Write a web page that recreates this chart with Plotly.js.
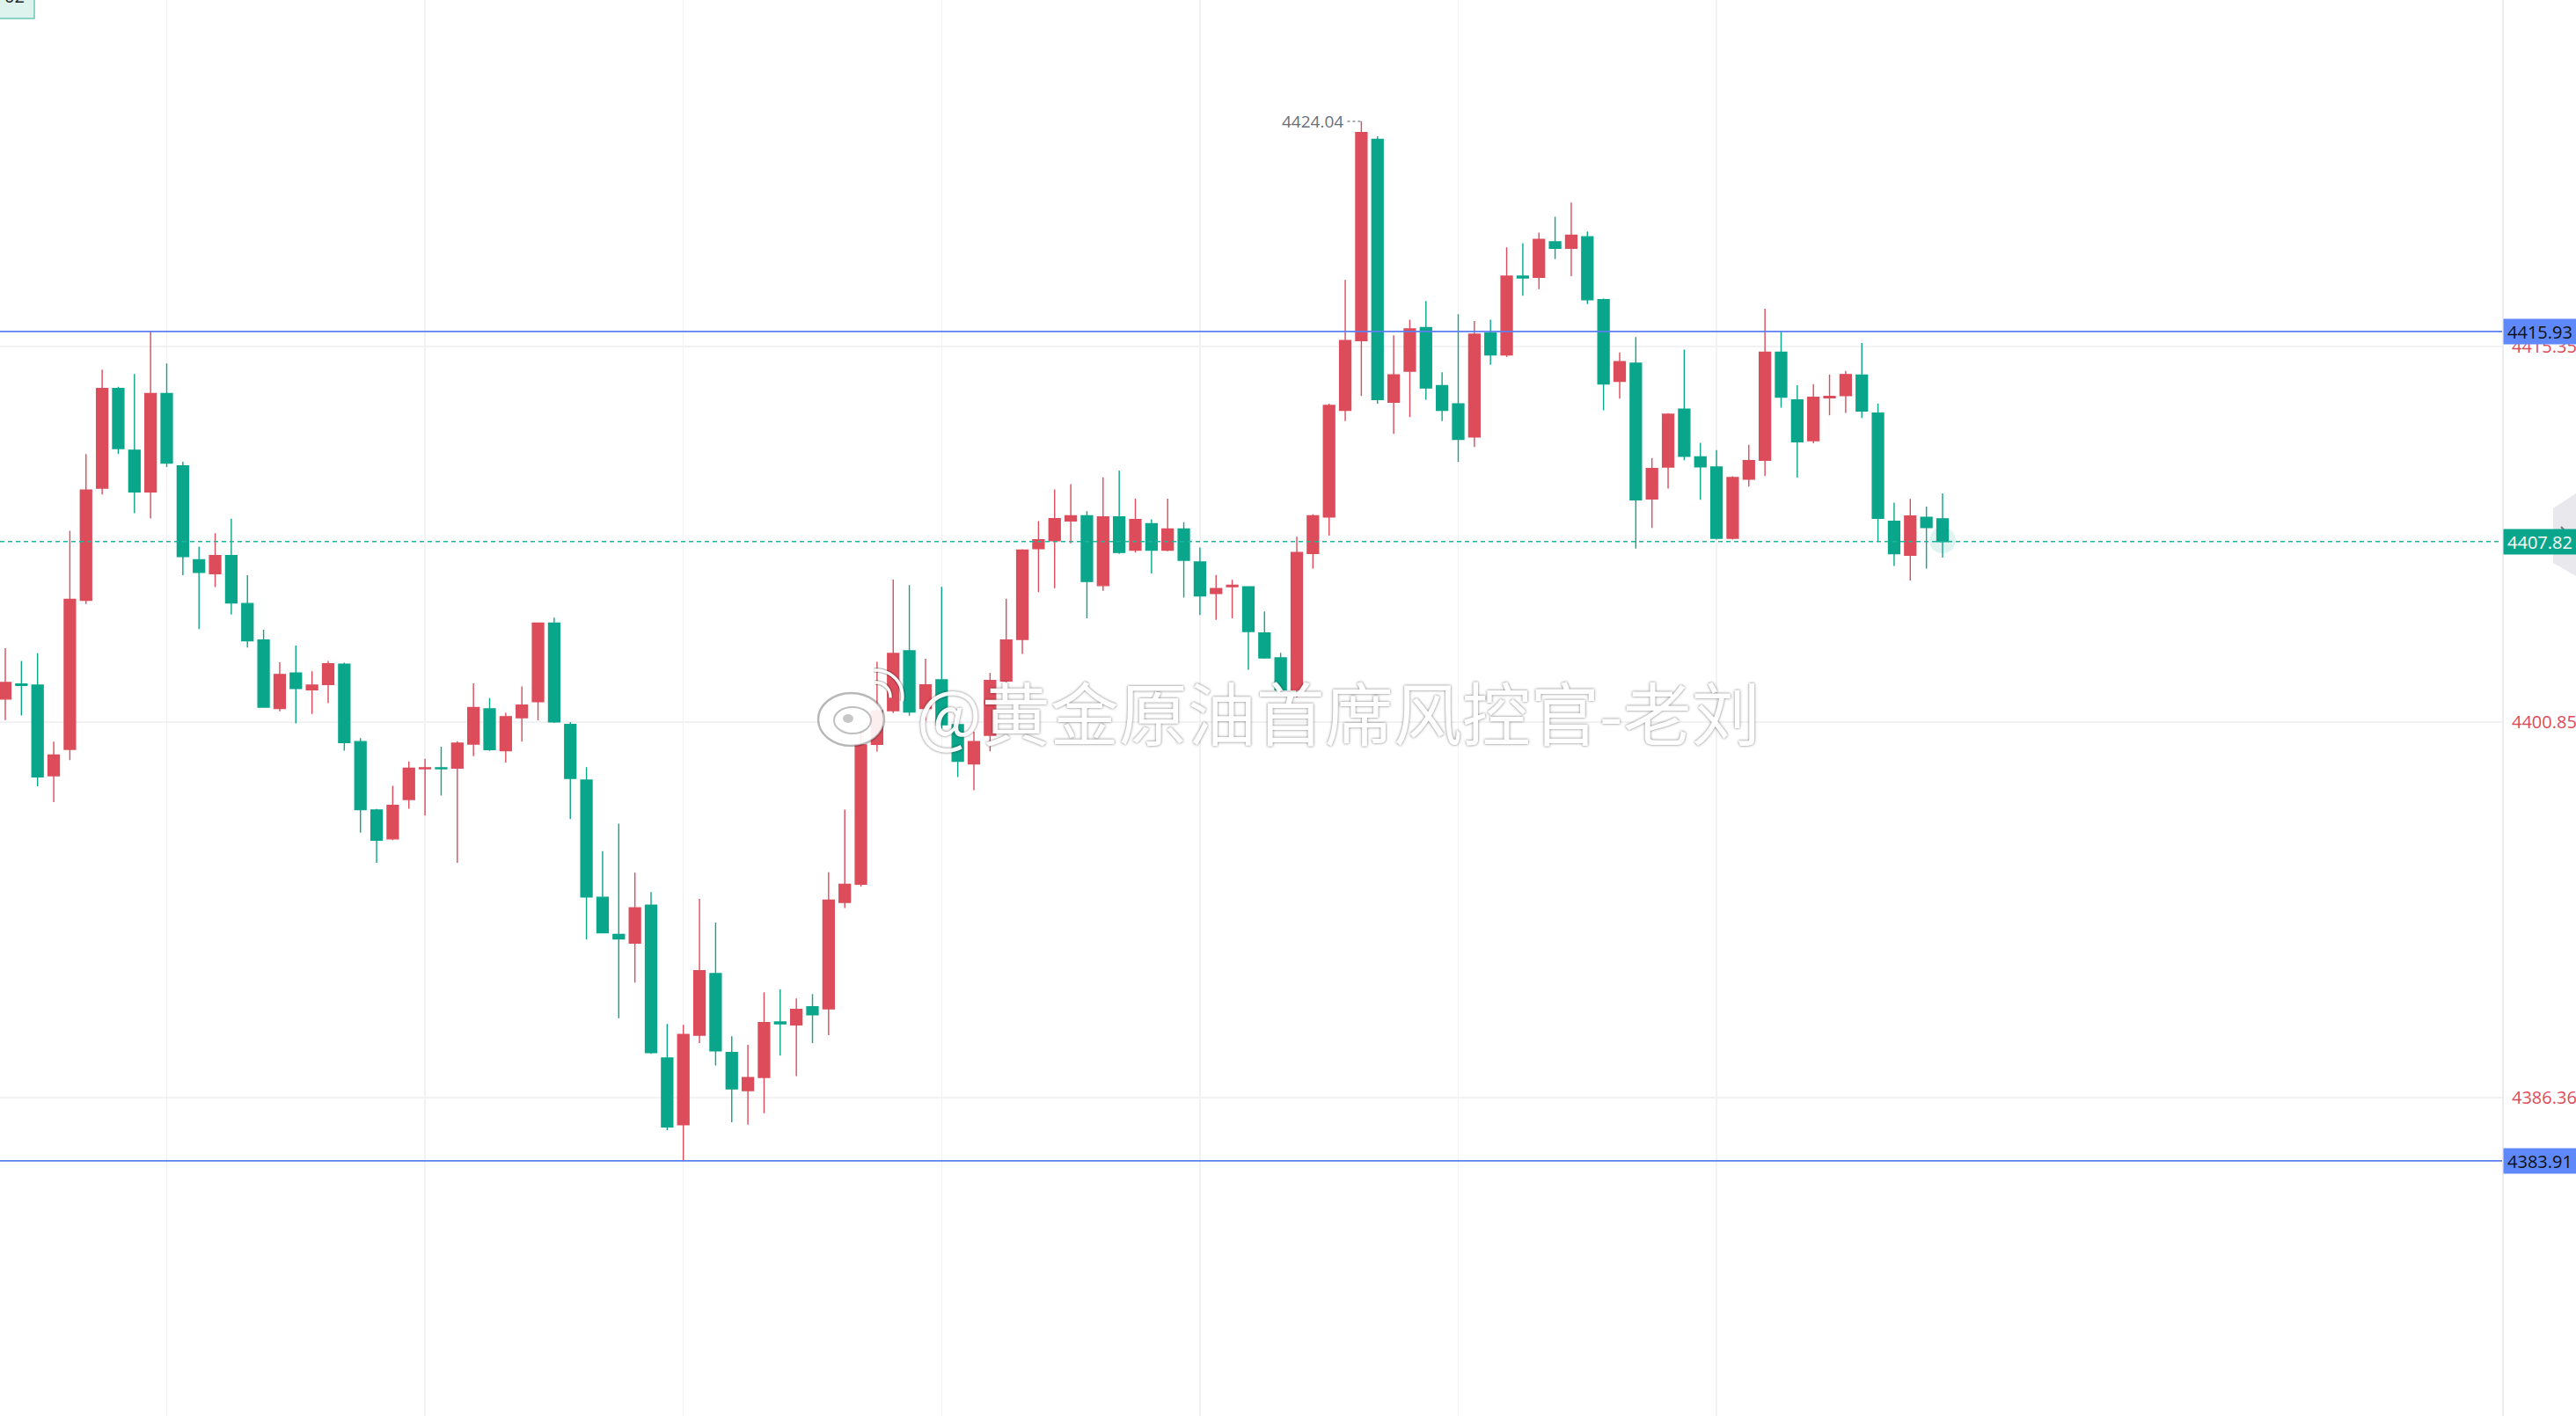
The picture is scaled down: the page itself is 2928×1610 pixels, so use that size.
<!DOCTYPE html>
<html>
<head>
<meta charset="utf-8">
<script src="https://cdn.plot.ly/plotly-3.0.1.min.js"></script>
<style>
html,body{margin:0;padding:0;background:#fff;overflow:hidden;}
#chart{width:2928px;height:1610px;}
</style>
</head>
<body>
<div id="chart"></div>
<script>
// ---- data ----
const openV = [
4401.74,4402.32,4402.28,4398.78,4399.80,4405.55,4409.88,4413.73,4411.35,4409.74,
4413.54,4410.74,4407.12,4406.58,4407.28,4405.43,4404.02,4401.38,4402.75,4402.10,
4402.30,4403.09,4400.10,4397.46,4396.34,4397.86,4399.05,4399.09,4399.08,4400.00,
4401.36,4399.75,4401.02,4401.64,4404.67,4400.76,4398.61,4394.09,4392.65,4392.32,
4393.78,4387.88,4385.31,4388.76,4391.14,4388.09,4386.62,4387.13,4389.27,4389.16,
4389.86,4389.78,4393.89,4394.59,4399.99,4401.29,4403.60,4401.38,4402.48,4400.75,
4399.24,4400.34,4402.44,4404.04,4407.55,4407.85,4408.62,4408.82,4406.12,4408.77,
4407.49,4408.51,4407.49,4408.31,4407.03,4405.82,4406.08,4406.07,4404.29,4403.33,
4402.10,4407.36,4408.77,4412.89,4415.58,4423.35,4413.20,4414.40,4416.08,4413.84,
4413.14,4411.86,4415.87,4415.03,4418.07,4418.02,4419.39,4419.14,4419.59,4417.16,
4414.01,4414.71,4409.47,4410.70,4412.93,4411.09,4410.70,4407.95,4410.23,4410.96,
4415.13,4413.29,4411.72,4413.37,4413.46,4414.25,4412.78,4408.60,4407.29,4408.76,
4408.70];
const highV = [
4403.70,4403.21,4403.51,4400.10,4408.24,4411.20,4414.46,4413.80,4414.29,4415.93,
4414.70,4410.90,4407.63,4408.14,4408.70,4406.52,4404.42,4403.16,4403.81,4402.81,
4403.21,4403.14,4400.23,4397.50,4398.39,4399.33,4399.43,4399.90,4400.11,4402.35,
4401.78,4401.21,4402.23,4404.70,4404.88,4400.85,4399.11,4395.87,4396.93,4395.04,
4394.29,4389.20,4389.16,4394.03,4393.11,4388.72,4388.39,4390.42,4390.53,4390.18,
4390.35,4395.05,4397.47,4400.64,4403.18,4406.35,4406.14,4403.30,4406.07,4401.00,
4400.48,4402.75,4405.61,4407.52,4408.61,4409.83,4410.04,4408.99,4410.30,4410.56,
4409.48,4408.68,4409.48,4408.57,4407.59,4406.53,4406.34,4406.10,4405.12,4403.53,
4408.01,4408.87,4413.14,4417.92,4424.04,4423.47,4415.78,4416.39,4417.11,4414.36,
4416.60,4416.34,4416.39,4419.18,4419.34,4419.75,4420.36,4420.91,4419.79,4417.20,
4415.12,4415.72,4411.05,4412.78,4415.23,4411.63,4411.35,4410.34,4411.56,4416.81,
4415.93,4413.86,4413.90,4414.27,4414.41,4415.49,4413.14,4409.32,4409.47,4409.17,
4409.68];
const lowV = [
4400.93,4401.11,4398.37,4397.76,4399.38,4405.41,4409.64,4411.20,4408.92,4408.71,
4410.70,4406.52,4404.44,4406.06,4405.00,4403.73,4401.40,4401.27,4400.80,4401.17,
4401.58,4399.75,4396.58,4395.42,4396.29,4397.51,4397.24,4398.02,4395.42,4399.54,
4399.74,4399.29,4400.10,4400.92,4400.82,4397.11,4392.46,4392.70,4389.42,4390.79,
4388.04,4385.10,4383.91,4388.46,4387.59,4385.40,4385.31,4385.75,4387.97,4387.18,
4388.46,4388.76,4393.67,4394.50,4399.71,4401.20,4401.10,4400.90,4400.60,4398.73,
4398.22,4399.72,4402.30,4403.48,4405.87,4406.02,4407.75,4404.86,4405.92,4407.35,
4407.40,4406.59,4407.45,4405.66,4404.99,4404.80,4404.86,4402.87,4403.30,4401.90,
4401.80,4406.78,4408.05,4412.47,4413.44,4413.14,4411.98,4412.63,4413.30,4412.47,
4410.90,4411.47,4414.65,4414.95,4417.31,4417.57,4418.73,4418.07,4416.99,4412.89,
4413.34,4407.55,4408.35,4409.87,4410.96,4409.43,4407.90,4407.90,4409.94,4410.35,
4412.99,4410.29,4411.62,4412.69,4412.79,4412.59,4407.82,4406.88,4406.32,4406.78,
4407.20];
const closeV = [
4402.38,4402.27,4398.74,4399.58,4405.59,4409.81,4413.73,4411.41,4409.74,4413.54,
4410.85,4407.24,4406.63,4407.28,4405.45,4403.99,4401.43,4402.69,4402.15,4402.28,
4403.10,4400.06,4397.47,4396.29,4397.64,4399.07,4399.09,4399.05,4400.04,4401.41,
4399.79,4401.06,4401.51,4404.67,4400.86,4398.68,4394.10,4392.72,4392.48,4393.68,
4388.09,4385.22,4388.79,4391.25,4388.16,4386.69,4387.13,4389.25,4389.20,4389.76,
4389.55,4393.98,4394.59,4399.97,4401.29,4403.50,4401.24,4402.29,4400.75,4399.34,
4400.10,4402.46,4404.02,4407.49,4407.89,4408.71,4408.82,4406.28,4408.77,4407.40,
4408.67,4407.49,4408.31,4407.10,4405.72,4406.01,4406.13,4404.35,4403.33,4402.10,
4407.40,4408.82,4413.08,4415.58,4423.61,4413.30,4414.26,4416.03,4413.75,4412.89,
4411.77,4415.83,4415.03,4418.07,4418.00,4419.49,4419.14,4419.65,4417.16,4413.91,
4414.77,4409.43,4410.64,4412.74,4411.11,4410.71,4407.95,4410.29,4410.95,4415.13,
4413.40,4411.67,4413.39,4413.43,4414.27,4412.86,4408.72,4407.35,4408.81,4408.36,
4407.82];

// axis labels and marked levels
const gridPrices = [4415.35, 4400.85, 4386.36];
const gridLabels = ["4415.35", "4400.85", "4386.36"];
const resistance = 4415.93;
const support = 4383.91;
const lastPrice = 4407.82;
const peakPrice = 4424.04;
const peakIndex = 85;
const timeGrid = [11, 27, 43, 59, 75, 91, 107];
const watermark = "@黄金原油首席风控官-老刘";

// ---- layout constants ----
const W = 2928, H = 1610, R = 84;
const PW = W - R;
const RED = "#dc4c5a", GREEN = "#0aa68b", BLUE = "#5b7ff3";
const px = v => v / PW;          // pixel -> paper x
const py = v => 1 - v / H;       // pixel -> paper y

const xIdx = openV.map((_, i) => i + 1);

const candles = {
  type: "candlestick",
  x: xIdx, open: openV, high: highV, low: lowV, close: closeV,
  increasing: {line: {color: RED, width: 1.4}, fillcolor: RED},
  decreasing: {line: {color: GREEN, width: 1.4}, fillcolor: GREEN},
  whiskerwidth: 0,
  hoverinfo: "skip",
  showlegend: false
};

const glow = {
  type: "scatter", mode: "markers",
  x: [xIdx[xIdx.length - 1]], y: [lastPrice + 0.05],
  marker: {size: 30, color: "rgba(10,166,139,0.13)", line: {width: 0}},
  hoverinfo: "skip", showlegend: false
};

// weibo logo (approximate, pixel-space)
function ellipse(x0, x1, y0, y1, fill, line, lw) {
  return {type: "circle", xref: "paper", yref: "paper",
    x0: px(x0), x1: px(x1), y0: py(y1), y1: py(y0),
    fillcolor: fill, line: {color: line, width: lw}, layer: "above"};
}
function arcPath(cx, cy, r, a0, a1) {
  let d = "";
  const n = 12;
  for (let k = 0; k <= n; k++) {
    const a = (a0 + (a1 - a0) * k / n) * Math.PI / 180;
    const X = px(cx + r * Math.cos(a)), Y = py(cy - r * Math.sin(a));
    d += (k === 0 ? "M" : "L") + X + "," + Y + " ";
  }
  return d;
}

const shapes = [
  {type: "line", xref: "paper", yref: "y", x0: 0, x1: 1, y0: resistance, y1: resistance,
   line: {color: BLUE, width: 1.8}},
  {type: "line", xref: "paper", yref: "y", x0: 0, x1: 1, y0: support, y1: support,
   line: {color: BLUE, width: 1.8}},
  {type: "line", xref: "paper", yref: "y", x0: 0, x1: 1, y0: lastPrice, y1: lastPrice,
   line: {color: "#1fb39b", width: 1.6, dash: "5px,4px"}},
  {type: "line", xref: "x", yref: "y", x0: peakIndex - 0.87, x1: peakIndex, y0: peakPrice, y1: peakPrice,
   line: {color: "#8a8f9a", width: 1.5, dash: "dot"}},
  // top-left partial label box
  {type: "rect", xref: "paper", yref: "paper", x0: px(-6), x1: px(39), y0: py(21), y1: py(-10),
   fillcolor: "#dff3ee", line: {color: "#6cc9b5", width: 1.5}, layer: "above"},
  // right side grey tab
  {type: "path", xref: "paper", yref: "paper",
   path: "M" + px(2928) + "," + py(561) + " L" + px(2902) + "," + py(578) + " L" + px(2902) + "," + py(640) +
         " L" + px(2928) + "," + py(655) + " Z",
   fillcolor: "rgba(226,226,232,0.8)", line: {width: 0}, layer: "above"},
  {type: "path", xref: "paper", yref: "paper",
   path: "M" + px(2911) + "," + py(599) + " L" + px(2919) + "," + py(607) + " L" + px(2911) + "," + py(615),
   line: {color: "#6f7380", width: 2}, layer: "above"},
  // weibo logo
  ellipse(930, 1005, 788, 848, "rgba(255,255,255,0.9)", "rgba(0,0,0,0.28)", 2.5),
  ellipse(948, 990, 804, 834, "rgba(255,255,255,0.9)", "rgba(0,0,0,0.25)", 2),
  ellipse(958, 970, 812, 822, "rgba(0,0,0,0.22)", "rgba(0,0,0,0)", 0),
  {type: "path", xref: "paper", yref: "paper", path: arcPath(996, 792, 16, 95, -5),
   line: {color: "rgba(0,0,0,0.25)", width: 6}, layer: "above"},
  {type: "path", xref: "paper", yref: "paper", path: arcPath(996, 792, 16, 95, -5),
   line: {color: "rgba(255,255,255,0.95)", width: 3.5}, layer: "above"},
  {type: "path", xref: "paper", yref: "paper", path: arcPath(996, 792, 30, 95, -10),
   line: {color: "rgba(0,0,0,0.25)", width: 6}, layer: "above"},
  {type: "path", xref: "paper", yref: "paper", path: arcPath(996, 792, 30, 95, -10),
   line: {color: "rgba(255,255,255,0.95)", width: 3.5}, layer: "above"}
];

function priceBox(price, bg, fg) {
  return {xref: "paper", yref: "y", x: 1, y: price, xanchor: "left", yanchor: "middle",
    xshift: 1, text: price.toFixed(2), showarrow: false, bgcolor: bg,
    width: 80, height: 26, align: "center",
    font: {family: "Open Sans, Noto Sans, sans-serif", size: 20, color: fg}};
}

const annotations = [
  priceBox(resistance, "#5f89fa", "#111111"),
  priceBox(lastPrice, GREEN, "#ffffff"),
  priceBox(support, "#5f89fa", "#111111"),
  {xref: "x", yref: "y", x: peakIndex - 0.87, y: peakPrice, xanchor: "right", yanchor: "middle",
   xshift: -2, text: peakPrice.toFixed(2), showarrow: false,
   font: {family: "Open Sans, Noto Sans, sans-serif", size: 19, color: "#6b6f7b"}},
  {xref: "paper", yref: "paper", x: px(1040), y: py(808), xanchor: "left", yanchor: "middle",
   text: watermark, showarrow: false, opacity: 0.95,
   font: {family: "Noto Sans CJK SC, sans-serif", size: 78, color: "#ffffff",
          shadow: "0px 0px 3px rgba(0,0,0,0.6)"}},
  {xref: "paper", yref: "paper", x: px(30), y: py(-4), xanchor: "right", yanchor: "middle",
   text: "02", showarrow: false,
   font: {family: "Open Sans, sans-serif", size: 20, color: "#222"}}
];

const layout = {
  width: W, height: H,
  margin: {l: 0, r: R, t: 0, b: 0, pad: 0},
  paper_bgcolor: "#ffffff", plot_bgcolor: "#ffffff",
  showlegend: false, hovermode: false,
  boxgap: 0.3, boxgroupgap: 0,
  xaxis: {
    range: [0.673, 155.66], tickvals: timeGrid, showticklabels: false, ticks: "",
    showgrid: true, gridcolor: "#f2f2f5", gridwidth: 1.5, zeroline: false,
    showline: false, rangeslider: {visible: false}, fixedrange: true
  },
  yaxis: {
    side: "right", range: [4374.06, 4428.73],
    tickvals: gridPrices, ticktext: gridLabels, ticks: "", ticklabelstandoff: 5,
    tickfont: {family: "Open Sans, Noto Sans, sans-serif", size: 20, color: RED},
    showgrid: true, gridcolor: "#f2f2f5", gridwidth: 1.5, zeroline: false,
    showline: true, linecolor: "#ececf0", linewidth: 2, fixedrange: true
  },
  shapes: shapes,
  annotations: annotations
};

Plotly.newPlot("chart", [candles, glow], layout, {displayModeBar: false, staticPlot: true});
</script>
</body>
</html>
